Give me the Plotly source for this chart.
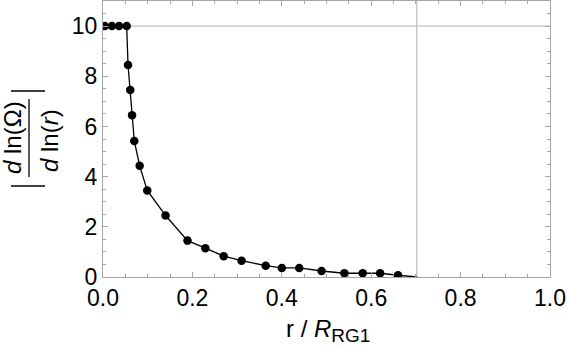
import plotly.graph_objects as go

r_vals = [0.004, 0.020, 0.036, 0.053, 0.056, 0.061, 0.065, 0.070, 0.082, 0.099,
          0.140, 0.189, 0.229, 0.270, 0.310, 0.364, 0.400, 0.439, 0.489, 0.540,
          0.581, 0.620, 0.660]
slope_vals = [10.0, 10.0, 10.0, 10.0, 8.45, 7.45, 6.45, 5.42, 4.43, 3.45,
              2.45, 1.45, 1.15, 0.83, 0.65, 0.45, 0.36, 0.36, 0.24, 0.15,
              0.15, 0.15, 0.07]
# curve runs on to zero at the edge (no marker there)
r_end = 0.702
slope_end = 0.0

# reference grid lines
grid_x = 0.702
grid_y = 10

x_ticks = [0.0, 0.2, 0.4, 0.6, 0.8, 1.0]
y_ticks = [0, 2, 4, 6, 8, 10]

W, H = 568, 347
L, R, T, B = 103, 18, 1, 70
pw, ph = W - L - R, H - T - B


def px(x):  # pixel -> paper x
    return (x - L) / pw


def py(y):  # pixel -> paper y
    return (H - B - y) / ph


frame = "#a6a6a6"
font = dict(family="Liberation Sans, Arial", size=23, color="#000000")

fig = go.Figure()
fig.add_trace(go.Scatter(x=r_vals + [r_end], y=slope_vals + [slope_end], mode="lines",
                         line=dict(color="black", width=1.3), hoverinfo="skip"))
fig.add_trace(go.Scatter(x=r_vals, y=slope_vals, mode="markers",
                         marker=dict(color="black", size=8.5)))

fig.add_shape(type="line", xref="x", yref="paper", x0=grid_x, x1=grid_x, y0=0, y1=1,
              line=dict(color="#c0c0c0", width=1.3), layer="below")
fig.add_shape(type="line", xref="paper", yref="y", x0=0, x1=1, y0=grid_y, y1=grid_y,
              line=dict(color="#c0c0c0", width=1.3), layer="below")

# y-axis label: |d ln(Ω) / d ln(r)| built by hand
tfont = dict(family="Liberation Sans, Arial", size=24, color="#000000")
fig.add_annotation(text="<i>d</i> ln(Ω)", xref="paper", yref="paper", x=px(12), y=py(138),
                   textangle=-90, showarrow=False, font=tfont, xanchor="center", yanchor="middle")
fig.add_annotation(text="<i>d</i> ln(<i>r</i>)", xref="paper", yref="paper", x=px(49), y=py(141),
                   textangle=-90, showarrow=False, font=tfont, xanchor="center", yanchor="middle")
bar = dict(color="black", width=1.3)
fig.add_shape(type="line", xref="paper", yref="paper", x0=px(29), x1=px(29), y0=py(99), y1=py(177), line=bar)
fig.add_shape(type="line", xref="paper", yref="paper", x0=px(11), x1=px(45), y0=py(91), y1=py(91), line=bar)
fig.add_shape(type="line", xref="paper", yref="paper", x0=px(11), x1=px(45), y0=py(186), y1=py(186), line=bar)

# x-axis label
fig.add_annotation(text="r / <i>R</i><sub><span style='font-size:19px'>RG1</span></sub>",
                   xref="paper", yref="paper", x=px(328), y=py(330), showarrow=False,
                   font=tfont, xanchor="center", yanchor="middle")

axis_common = dict(showline=True, mirror="allticks", linecolor=frame, linewidth=1,
                   ticks="inside", tickcolor=frame, ticklen=5, tickwidth=1,
                   showgrid=False, zeroline=False, tickfont=font, automargin=False)
fig.update_xaxes(range=[0, 1], tickvals=x_ticks, ticktext=[f"{v:.1f}" for v in x_ticks],
                 minor=dict(dtick=0.05, ticks="inside", ticklen=3, tickcolor=frame, showgrid=False),
                 ticklabeloverflow="allow", **axis_common)
fig.update_yaxes(range=[0, 11], tickvals=y_ticks,
                 minor=dict(dtick=0.5, ticks="inside", ticklen=3, tickcolor=frame, showgrid=False),
                 **axis_common)

fig.update_layout(width=W, height=H, margin=dict(l=L, r=R, t=T, b=B),
                  plot_bgcolor="white", paper_bgcolor="white", showlegend=False)
# page has a default body margin; drop it so the figure sits at the window corner
fig.write_html("out.html", config={"displayModeBar": False},
               post_script="document.body.style.margin='0';")
